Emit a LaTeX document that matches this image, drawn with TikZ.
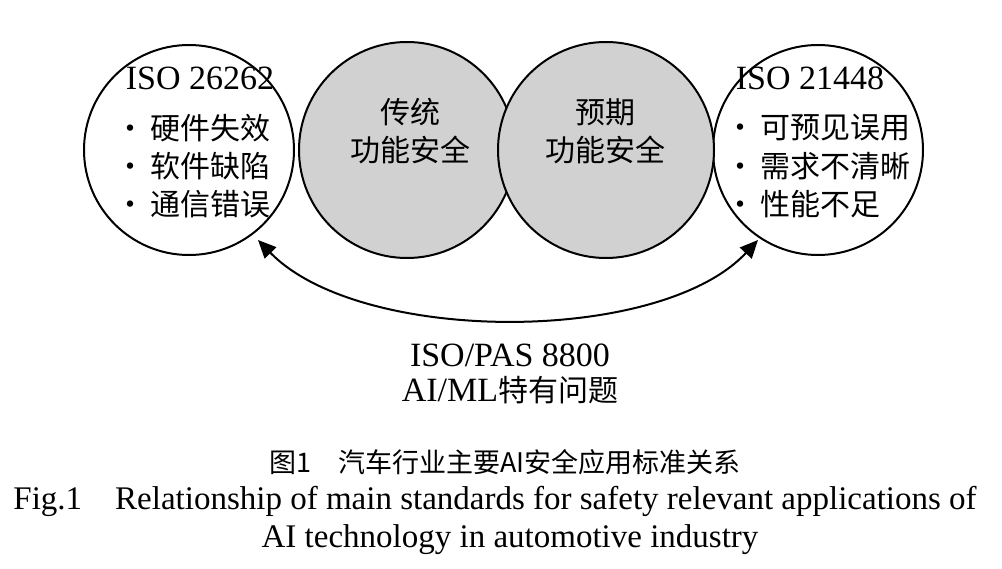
\documentclass[tikz,border=0pt]{standalone}
\usepackage{fontspec}
\setmainfont{Liberation Serif}
\newfontfamily\cjk{Noto Sans CJK SC}
\usetikzlibrary{arrows.meta}
\begin{document}
\begin{tikzpicture}[x=1pt,y=-1pt,
  circ/.style={circle,draw,line width=2pt,minimum size=#1,inner sep=0pt},
  big/.style={font=\fontsize{34}{38}\selectfont},
  zh/.style={font=\fontsize{30}{34}\selectfont\cjk},
  captxt/.style={font=\fontsize{33}{38}\selectfont}]
\useasboundingbox (0,0) rectangle (1002,569);
\node[circ=210pt,fill=white] (L) at (189,150) {};
\node[circ=210pt,fill=white] (R) at (818,150) {};
\node[circ=216pt,fill=black!18] (G1) at (407,150) {};
\node[circ=216pt,fill=black!18] (G2) at (606,150) {};
\node[big] (l0) at (200,78) {ISO 26262};
\node[zh,anchor=west] (l1) at (112,128) {·\,硬件失效};
\node[zh,anchor=west] (l2) at (112,166) {·\,软件缺陷};
\node[zh,anchor=west] (l3) at (112,204) {·\,通信错误};
\node[zh] (g1a) at (410,112) {传统};
\node[zh] (g1b) at (410,150) {功能安全};
\node[zh] (g2a) at (605,112) {预期};
\node[zh] (g2b) at (605,150) {功能安全};
\node[big] (r0) at (810,78) {ISO 21448};
\node[zh,anchor=west] (r1) at (722,128) {·\,可预见误用};
\node[zh,anchor=west] (r2) at (722,166) {·\,需求不清晰};
\node[zh,anchor=west] (r3) at (722,204) {·\,性能不足};
\coordinate (a1) at (258,240);
\coordinate (a2) at (758,240);
\draw[line width=2pt,{Triangle[length=18pt,width=16pt]}-{Triangle[length=18pt,width=16pt]}]
  (a1) .. controls (360,345) and (660,345) .. (a2);
\node[big] (p1) at (510,355) {ISO/PAS 8800};
\node[big] (p2) at (510,390) {AI/ML\fontsize{30}{34}\selectfont\cjk 特有问题};
\node[font=\fontsize{27}{36}\selectfont\cjk] (c1) at (505,462) {图1\quad 汽车行业主要AI安全应用标准关系};
\node[captxt] (c2) at (495,501) {Fig.1\quad Relationship of main standards for safety relevant applications of};
\node[captxt] (c3) at (510,540) {AI technology in automotive industry};
\end{tikzpicture}
\end{document}
